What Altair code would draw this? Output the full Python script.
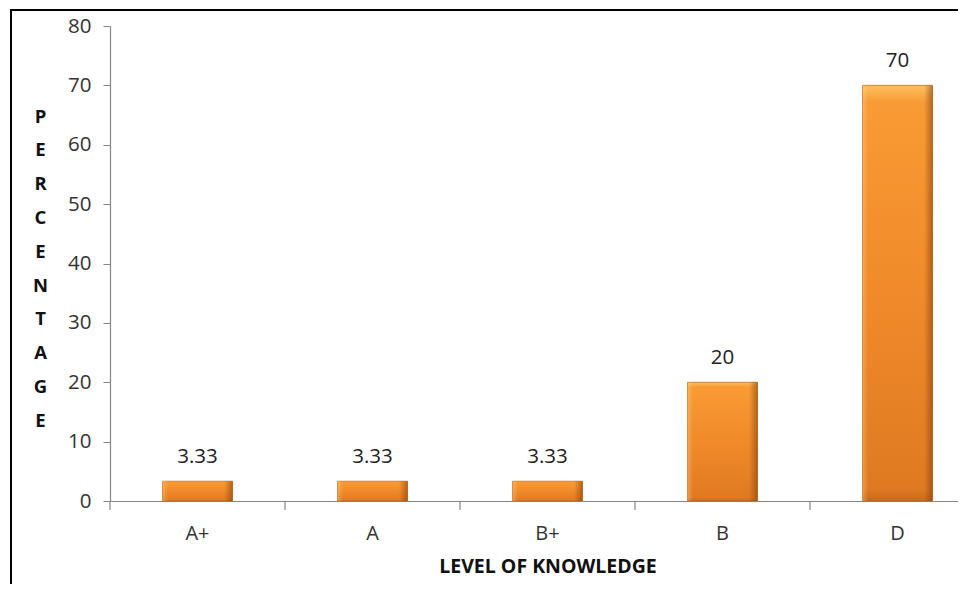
import altair as alt
import pandas as pd

categories = ["A+", "A", "B+", "B", "D"]
values = [3.33, 3.33, 3.33, 20, 70]
labels = ["3.33", "3.33", "3.33", "20", "70"]
y_ticks = [0, 10, 20, 30, 40, 50, 60, 70, 80]

df = pd.DataFrame({"cat": categories, "value": values, "label": labels})

FONT = "Open Sans"
AXIS_GRAY = "#868686"

base = alt.Chart(df)

x_enc = alt.X(
    "cat:N",
    sort=categories,
    scale=alt.Scale(range=[0, 875], paddingInner=0.6, paddingOuter=0.3),
    axis=alt.Axis(
        title="LEVEL OF KNOWLEDGE",
        titleFont=FONT,
        titleFontSize=19.5,
        titleFontWeight="bold",
        titleColor="#111111",
        titlePadding=14,
        labelAngle=0,
        labelFont=FONT,
        labelFontSize=20,
        labelColor="#333333",
        labelPadding=22,
        ticks=False,
        domainColor=AXIS_GRAY,
        domainWidth=1.2,
    ),
)

y_enc = alt.Y(
    "value:Q",
    scale=alt.Scale(domain=[0, 80], nice=False),
    axis=alt.Axis(
        values=y_ticks,
        grid=False,
        tickSize=7,
        tickColor=AXIS_GRAY,
        domainColor=AXIS_GRAY,
        domainWidth=1.2,
        labelFont=FONT,
        labelFontSize=20.5,
        labelColor="#333333",
        labelPadding=12,
        title=list("PERCENTAGE"),
        titleAngle=0,
        titleX=-70,
        titleY=90,
        titleAlign="center",
        titleBaseline="middle",
        titleLineHeight=33.8,
        titleFont=FONT,
        titleFontSize=18.5,
        titleFontWeight="bold",
        titleColor="#111111",
    ),
)

vert_grad = alt.Gradient(
    gradient="linear",
    stops=[
        alt.GradientStop(color="#FFC060", offset=0),
        alt.GradientStop(color="#F99B34", offset=0.04),
        alt.GradientStop(color="#F08A2A", offset=0.5),
        alt.GradientStop(color="#E07A22", offset=0.97),
        alt.GradientStop(color="#C86A1C", offset=1),
    ],
    x1=0, x2=0, y1=0, y2=1,
)

horiz_grad = alt.Gradient(
    gradient="linear",
    stops=[
        alt.GradientStop(color="rgba(255,220,150,0.35)", offset=0),
        alt.GradientStop(color="rgba(255,220,150,0)", offset=0.08),
        alt.GradientStop(color="rgba(120,60,10,0)", offset=0.88),
        alt.GradientStop(color="rgba(120,60,10,0.55)", offset=1),
    ],
    x1=0, x2=1, y1=0, y2=0,
)

bars = base.mark_bar(color=vert_grad, stroke="#C46A1E", strokeWidth=0.8).encode(x=x_enc, y=y_enc)
bars_shade = base.mark_bar(color=horiz_grad).encode(
    x=alt.X("cat:N", sort=categories), y=alt.Y("value:Q")
)

text = base.mark_text(
    font=FONT, fontSize=20.5, color="#222222", baseline="middle", dy=-24
).encode(x=alt.X("cat:N", sort=categories), y=alt.Y("value:Q"), text="label:N")

ticks = base.mark_rule(color=AXIS_GRAY, strokeWidth=1.2, xOffset=-87.5).encode(
    x=alt.X("cat:N", sort=categories), y=alt.value(475), y2=alt.value(484)
)

frame = alt.Chart(alt.Data(values=[{"f": 1}])).mark_rect(
    filled=False, stroke="black", strokeWidth=2
).encode(x=alt.value(-99), x2=alt.value(900), y=alt.value(-16), y2=alt.value(600))

chart = alt.layer(frame, bars, bars_shade, text, ticks).properties(
    width=848,
    height=475,
    padding={"left": 102, "top": 18, "right": 0, "bottom": 83},
    autosize="none",
    background="white",
).configure_view(stroke=None)

chart.save("out.html", embed_options={"renderer": "svg", "actions": False})
